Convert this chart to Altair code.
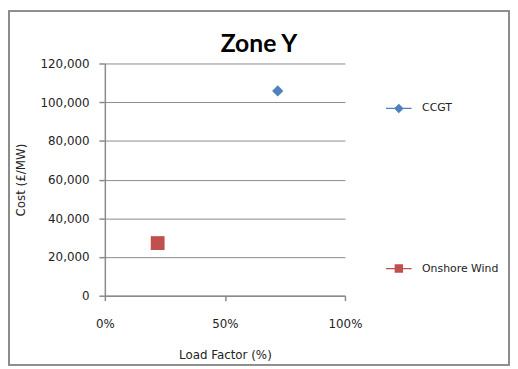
import altair as alt
import pandas as pd

series = ["CCGT", "Onshore Wind"]
load_factor = [0.72, 0.22]
cost = [105800, 27200]
colors = ["#4F81BD", "#C0504D"]
shapes = ["diamond", "square"]
sizes = [130, 196]
x_ticks = [0, 0.5, 1.0]
y_ticks = [0, 20000, 40000, 60000, 80000, 100000, 120000]
chart_title = "Zone Y"

df = pd.DataFrame({"Series": series, "LoadFactor": load_factor, "Cost": cost})

FONT = "DejaVu Sans"
GRID = "#8a8a8a"

legend_paths = [
    "M-4.3,0L-1.3,0M1.3,0L4.3,0M-1.3,0L0,-1.3L1.3,0L0,1.3Z",
    "M-4.3,0L-1.2,0M1.2,0L4.3,0M-1.2,-1.2L1.2,-1.2L1.2,1.2L-1.2,1.2Z",
]
legend_y = [40, 202]

x_enc = alt.X(
    "LoadFactor:Q",
    scale=alt.Scale(domain=[0, 1], nice=False, zero=True),
    axis=alt.Axis(
        values=x_ticks,
        format=".0%",
        title="Load Factor (%)",
        grid=False,
        tickSize=5,
        labelFlush=False,
        labelPadding=18,
        titlePadding=21,
    ),
)
y_enc = alt.Y(
    "Cost:Q",
    scale=alt.Scale(domain=[0, 120000], nice=False),
    axis=alt.Axis(
        values=y_ticks,
        format=",.0f",
        title="Cost (£/MW)",
        grid=True,
        tickSize=6,
        labelFlush=False,
        labelPadding=10,
        titlePadding=13,
    ),
)

layers = []
for i, s in enumerate(series):
    leg = alt.Legend(
        title=None,
        orient="none",
        legendX=292,
        legendY=legend_y[i],
        padding=0,
        symbolSize=36,
        symbolType=legend_paths[i],
        symbolStrokeColor=colors[i],
        symbolFillColor=colors[i],
        symbolStrokeWidth=1.3,
        symbolOpacity=1,
        labelOffset=18,
        labelFont=FONT,
        labelFontSize=11,
        labelColor="#222222",
    )
    layers.append(
        alt.Chart(df)
        .transform_filter(alt.datum.Series == s)
        .mark_point(filled=True, opacity=1, shape=shapes[i], size=sizes[i])
        .encode(
            x=x_enc,
            y=y_enc,
            color=alt.Color("Series:N", scale=alt.Scale(domain=[s], range=[colors[i]]), legend=leg),
        )
    )

border = alt.Chart(df).mark_rect(fill=None, stroke="#8c8c8c", strokeWidth=2).encode(
    x=alt.value(-97), x2=alt.value(409), y=alt.value(-53), y2=alt.value(305)
)

title_df = pd.DataFrame({"t": [chart_title]})
title = alt.Chart(title_df).mark_text(
    font="Lato", fontSize=25, fontWeight="bold", color="#000000", align="center", baseline="middle"
).encode(text="t:N", x=alt.value(156), y=alt.value(-20))

chart = alt.layer(border, title, *layers).resolve_scale(color="independent").resolve_legend(color="independent").properties(
    width=243,
    height=235,
    autosize=alt.AutoSizeParams(type="none"),
    padding={"left": 98, "top": 54, "right": 167, "bottom": 71},
).configure_view(stroke=None).configure_axis(
    domainColor=GRID,
    domainWidth=1.5,
    gridColor=GRID,
    gridWidth=1,
    gridOpacity=1,
    tickColor=GRID,
    tickWidth=1.5,
    labelFont=FONT,
    labelFontSize=12,
    labelColor="#222222",
    titleFont=FONT,
    titleFontSize=12,
    titleFontWeight="normal",
    titleColor="#222222",
)

chart.save("out.html", embed_options={"renderer": "svg", "actions": False})
